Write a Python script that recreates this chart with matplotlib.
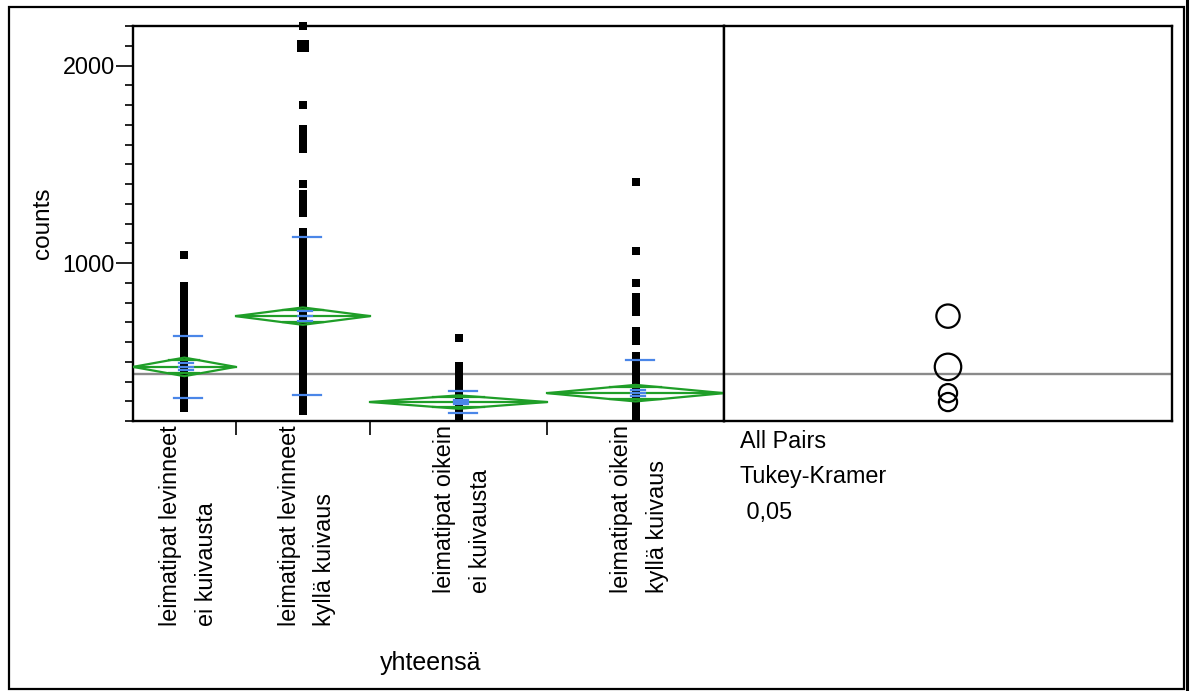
import numpy as np
import matplotlib
matplotlib.use("Agg")
import matplotlib.pyplot as plt
from matplotlib.patches import Polygon, Ellipse, Rectangle
from matplotlib.lines import Line2D
from matplotlib.ticker import MultipleLocator

plt.rcParams['font.family'] = ['Liberation Sans', 'DejaVu Sans']

# ---------------- data ----------------
categories = ["leimatipat levinneet\nei kuivausta",
              "leimatipat levinneet\nkyllä kuivaus",
              "leimatipat oikein\nei kuivausta",
              "leimatipat oikein\nkyllä kuivaus"]
group_n = [58, 76, 100, 100]          # widths of the category bands (sample size)

g1_counts = [1043, 885, 843, 825, 805, 785, 765, 748, 730, 712, 695, 680, 662, 648,
             630, 615, 600, 585, 570, 555, 540, 525, 510, 495, 480, 465, 450, 435,
             420, 405, 390, 375, 360, 345, 330, 315, 300, 285, 268]
g2_counts = [2200, 1799, 1680, 1660, 1640, 1615, 1595, 1575, 1398, 1350, 1320, 1283,
             1255, 1155, 1135, 1112, 1095, 1075, 1055, 1035, 1015, 978, 960, 940, 920,
             904, 885, 865, 845, 825, 805, 785, 765, 745, 716, 700, 685, 668, 650, 632,
             615, 598, 580, 562, 545, 528, 510, 492, 475, 458, 440, 422, 405, 388, 370,
             352, 335, 318, 300, 285, 268, 251]
g2_big_point = [2098]
g3_counts = [620, 479, 465, 450, 435, 420, 405, 390, 375, 360, 345, 330, 315, 300,
             285, 270, 255, 240, 228, 217]
g4_counts = [1410, 1063, 897, 826, 800, 775, 750, 657, 630, 606, 530, 488, 470, 455,
             440, 425, 410, 395, 380, 365, 350, 335, 320, 305, 290, 275, 260, 245, 225]
groups = [g1_counts, g2_counts, g3_counts, g4_counts]

means = [474, 731, 296, 341]
ci_half = [47, 44, 34, 42]          # means diamond half-height (95% CI)
std_devs = [157, 400, 56, 167]
std_errs = [18, 24, 10, 15]
circle_radius = [67, 59, 46, 46]    # comparison circle radii (data units)
grand_mean = 440

y_min, y_max = 200, 2200
y_major, y_minor = 1000, 100

# ---------------- layout ----------------
W, H = 1194, 691
DPI = 100
fig = plt.figure(figsize=(W / DPI, H / DPI), dpi=DPI)

left_px, mid_px, right_px = 133, 724, 1172
top_px, bot_px = 26, 421
FS = 16.8

def fx(px):
    return px / W

def fy(py):
    return 1 - py / H

ax = fig.add_axes([fx(left_px), fy(bot_px), fx(mid_px - left_px), (bot_px - top_px) / H])
ax2 = fig.add_axes([fx(mid_px), fy(bot_px), fx(right_px - mid_px), (bot_px - top_px) / H],
                   sharey=ax)

green = '#1f9e28'
blue = '#4a86e8'
gray = '#8a8a8a'

bounds = np.concatenate([[0], np.cumsum(group_n)])
centers = (bounds[:-1] + bounds[1:]) / 2
total = bounds[-1]
ax.set_xlim(0, total)
ax.set_ylim(y_min, y_max)

x_per_px = total / (mid_px - left_px)

# grand mean
ax.axhline(grand_mean, color=gray, lw=1.7, zorder=1)
ax2.axhline(grand_mean, color=gray, lw=1.7, zorder=1)

for i, vals in enumerate(groups):
    c = centers[i]
    lft, rgt = bounds[i], bounds[i + 1]
    m, ci = means[i], ci_half[i]
    # points
    ax.plot([c] * len(vals), vals, 's', ms=5.2, color='black', mec='black', mew=0,
            zorder=3, clip_on=False)
    # means diamond
    diamond = Polygon([[lft, m], [c, m + ci], [rgt, m], [c, m - ci]], closed=True,
                      fill=False, edgecolor=green, lw=1.6, zorder=4)
    ax.add_patch(diamond)
    ax.plot([lft, rgt], [m, m], color=green, lw=1.6, zorder=4)
    hw = (rgt - lft) / 2
    ov = ci / np.sqrt(2)
    ow = hw * (1 - 1 / np.sqrt(2))
    for s in (1, -1):
        ax.plot([c - ow, c + ow], [m + s * ov, m + s * ov], color=green, lw=1.6, zorder=4)
    # std dev lines
    sd_w = 28 * x_per_px
    for s in (1, -1):
        ax.plot([c - sd_w / 2 + 4 * x_per_px, c + sd_w / 2 + 4 * x_per_px],
                [m + s * std_devs[i]] * 2, color=blue, lw=1.6, zorder=5)
    # mean error bars
    se_w = 14 * x_per_px
    for s in (1, -1):
        ax.plot([c - se_w / 2 + 2 * x_per_px, c + se_w / 2 + 2 * x_per_px],
                [m + s * std_errs[i]] * 2, color=blue, lw=1.6, zorder=5)
    ax.plot([c - se_w / 2 + 2 * x_per_px, c + se_w / 2 + 2 * x_per_px], [m, m],
            color=blue, lw=1.6, zorder=5)

# big point in group 2
ax.plot([centers[1]], g2_big_point, 's', ms=8, color='black', mew=0, zorder=3)

# axes styling
for a in (ax, ax2):
    for sp in a.spines.values():
        sp.set_linewidth(1.7)
        sp.set_color('black')

ax.yaxis.set_major_locator(MultipleLocator(y_major))
ax.yaxis.set_minor_locator(MultipleLocator(y_minor))
ax.set_yticks([1000, 2000])
ax.tick_params(axis='y', which='major', length=12, width=1.2, labelsize=FS, pad=1)
ax.tick_params(axis='y', which='minor', length=6, width=1.2)
ax.set_xticks(bounds[1:-1])
ax.set_xticklabels([])
ax.tick_params(axis='x', which='major', length=10, width=1.2)
ax.tick_params(axis='x', which='minor', length=0)

ax2.tick_params(left=False, labelleft=False, bottom=False, labelbottom=False,
                which='both')
ax2.set_xlim(0, 1)

ax.set_ylabel('counts', fontsize=17.5, labelpad=6)

# category labels
for i, lab in enumerate(categories):
    ax.text(centers[i] + 4 * x_per_px, -0.01, lab, transform=ax.get_xaxis_transform(),
            rotation=90, va='top', ha='center', multialignment='left', fontsize=FS,
            linespacing=1.7)

fig.text(fx(431), fy(663), 'yhteensä', ha='center', va='center', fontsize=18)

# comparison circles
ypx_per_unit = (bot_px - top_px) / (y_max - y_min)
r_px_per_x = (right_px - mid_px)
for m, r in zip(means, circle_radius):
    e = Ellipse((0.5, m), width=2 * r * ypx_per_unit / r_px_per_x, height=2 * r,
                fill=False, edgecolor='black', lw=1.6, zorder=4)
    ax2.add_patch(e)

# right-side text
fig.text(fx(740), fy(441), 'All Pairs', ha='left', va='center', fontsize=FS)
fig.text(fx(740), fy(477), 'Tukey-Kramer', ha='left', va='center', fontsize=FS)
fig.text(fx(740), fy(513), ' 0,05', ha='left', va='center', fontsize=FS)

# outer frame
fig.patches.append(Rectangle((fx(9), fy(689)), fx(1184 - 9), (689 - 7) / H,
                             transform=fig.transFigure, fill=False, edgecolor='black',
                             lw=1.6))
fig.lines.append(Line2D([fx(1187), fx(1187)], [0, 1], transform=fig.transFigure,
                        color='black', lw=2.2))

fig.savefig('out.png', dpi=DPI)
